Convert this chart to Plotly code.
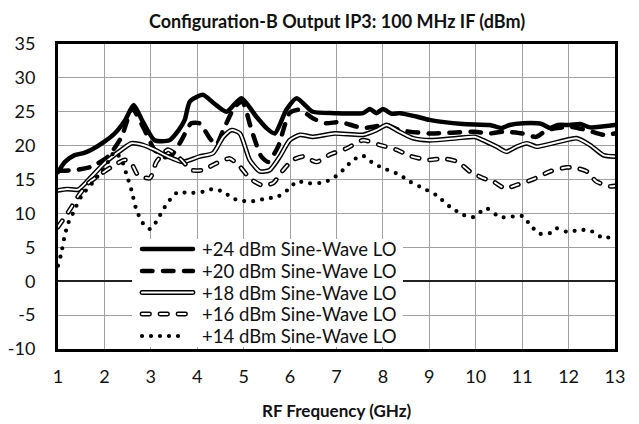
import plotly.graph_objects as go

# ---- Output IP3 (dBm) vs RF frequency (GHz), one series per LO drive level ----
f_lo24 = [1.0, 1.15, 1.36, 1.55, 1.72, 2.0, 2.22, 2.45, 2.63, 2.83, 3.08, 3.4, 3.6, 3.73,
          3.84, 4.12, 4.35, 4.63, 4.95, 5.27, 5.49, 5.67, 5.92, 6.14, 6.49, 6.96, 7.57,
          7.72, 7.86, 8.0, 8.19, 8.37, 8.72, 9.0, 9.72, 10.3, 10.56, 10.73, 11.02, 11.42,
          11.6, 11.77, 12.03, 12.25, 12.46, 13.0]
ip3_lo24 = [16.1, 17.6, 18.6, 18.9, 19.4, 20.6, 21.8, 23.8, 26.0, 23.5, 20.8, 20.8, 22.3, 23.8,
            26.5, 27.5, 26.3, 25.0, 27.0, 24.3, 22.6, 21.8, 25.3, 27.0, 25.0, 24.8, 24.8,
            25.4, 24.8, 25.4, 24.7, 24.8, 24.3, 23.8, 23.2, 23.05, 22.6, 23.05, 23.3, 23.2,
            22.6, 23.05, 23.05, 23.2, 22.7, 23.05]

f_lo20 = [1.0, 1.36, 1.72, 2.08, 2.37, 2.6, 2.83, 3.08, 3.3, 3.45, 3.66, 3.87, 4.05, 4.27,
          4.41, 4.56, 4.81, 4.97, 5.17, 5.38, 5.53, 5.74, 5.99, 6.21, 6.5, 6.78, 7.07, 7.57,
          8.08, 8.36, 9.0, 9.98, 10.3, 10.6, 11.0, 11.3, 11.53, 11.76, 12.03, 12.39, 12.75, 13.0]
ip3_lo20 = [16.3, 16.4, 16.9, 18.4, 21.3, 25.5, 22.8, 19.4, 18.3, 18.6, 20.8, 23.3, 23.3, 21.1,
            20.1, 22.3, 25.75, 26.5, 22.3, 18.4, 17.6, 19.85, 24.8, 25.3, 24.0, 23.3, 23.5, 22.6,
            23.05, 22.3, 21.8, 22.06, 21.8, 22.06, 21.8, 21.3, 22.3, 22.6, 22.8, 22.3, 21.6, 21.8]

f_lo18 = [1.0, 1.2, 1.43, 1.65, 2.0, 2.37, 2.58, 2.83, 3.08, 3.37, 3.69, 4.05, 4.34, 4.56,
          4.74, 4.92, 5.13, 5.35, 5.56, 5.78, 5.99, 6.21, 6.5, 6.96, 7.57, 7.86, 8.08, 8.29,
          8.65, 9.0, 9.59, 9.98, 10.16, 10.45, 10.66, 10.88, 11.1, 11.31, 11.5, 12.03, 12.17,
          12.46, 12.75, 13.0]
ip3_lo18 = [13.4, 13.6, 13.5, 14.9, 17.4, 19.4, 20.35, 20.1, 19.4, 18.4, 17.6, 18.4, 18.9, 21.3,
            22.3, 21.8, 17.9, 16.2, 16.4, 18.4, 20.8, 21.6, 21.3, 21.8, 21.6, 22.3, 23.05, 22.3,
            21.1, 20.8, 21.1, 21.3, 20.8, 19.85, 19.1, 19.85, 20.35, 19.85, 20.1, 20.95, 21.1,
            20.1, 18.6, 18.4]

f_lo16 = [1.0, 1.25, 1.43, 1.65, 1.94, 2.22, 2.44, 2.58, 2.72, 2.98, 3.12, 3.37, 3.66, 3.87,
          4.12, 4.41, 4.7, 4.92, 5.13, 5.38, 5.63, 5.85, 6.06, 6.28, 6.57, 6.86, 7.22, 7.57,
          7.93, 8.29, 8.62, 9.0, 9.3, 9.62, 9.87, 10.16, 10.38, 10.63, 10.88, 11.24, 11.6,
          11.96, 12.17, 12.39, 12.6, 12.9, 13.0]
ip3_lo16 = [8.0, 10.5, 12.5, 14.45, 15.9, 17.15, 17.9, 17.4, 15.7, 15.2, 17.6, 19.4, 17.9, 16.4,
            16.4, 17.4, 18.1, 16.9, 15.2, 14.2, 14.45, 16.4, 17.9, 18.4, 17.6, 18.7, 19.6, 20.8,
            20.1, 19.4, 18.4, 17.9, 18.1, 17.6, 16.2, 15.2, 14.7, 13.7, 14.2, 15.05, 16.2,
            16.8, 16.7, 16.2, 14.7, 14.0, 14.05]

f_lo14 = [1.0, 1.07, 1.14, 1.22, 1.32, 1.5, 1.79, 2.08, 2.22, 2.37, 2.47, 2.58, 2.69, 2.83,
          2.98, 3.12, 3.26, 3.41, 3.59, 3.8, 4.12, 4.34, 4.56, 4.77, 4.95, 5.13, 5.49, 5.74,
          5.99, 6.14, 6.42, 6.71, 6.93, 7.14, 7.36, 7.57, 7.79, 8.0, 8.36, 8.58, 8.87, 9.15,
          9.44, 9.73, 9.94, 10.23, 10.52, 10.8, 11.02, 11.17, 11.38, 11.6, 11.74, 11.96,
          12.24, 12.46, 12.68, 12.82, 13.0]
ip3_lo14 = [2.3, 4.1, 6.6, 8.55, 10.0, 12.5, 14.9, 17.6, 19.1, 17.9, 15.9, 13.5, 10.5, 8.55,
            7.7, 8.8, 10.5, 12.0, 13.2, 13.0, 13.2, 13.6, 13.2, 12.2, 11.9, 11.75, 12.2, 12.5,
            13.7, 14.7, 14.45, 14.55, 15.2, 16.4, 17.9, 18.5, 17.4, 16.7, 15.7, 14.7, 13.7, 12.7,
            11.0, 9.8, 9.45, 10.75, 9.45, 9.55, 9.6, 8.3, 7.0, 7.1, 7.8, 7.3,
            7.55, 7.5, 6.6, 6.4, 6.8]

series_names = ["+24 dBm Sine-Wave LO", "+20 dBm Sine-Wave LO", "+18 dBm Sine-Wave LO",
                "+16 dBm Sine-Wave LO", "+14 dBm Sine-Wave LO"]
series_x = [f_lo24, f_lo20, f_lo18, f_lo16, f_lo14]
series_y = [ip3_lo24, ip3_lo20, ip3_lo18, ip3_lo16, ip3_lo14]

x_ticks = list(range(1, 14))
y_ticks = list(range(-10, 36, 5))

# stroke layers per series: (width, colour, dash); stacked layers give the outlined styles
BLK, WHT = "#000000", "#ffffff"
styles = [
    [(4.5, BLK, "solid")],
    [(4.5, BLK, "10.5px,10.5px")],
    [(4.8, BLK, "solid"), (1.9, WHT, "solid")],
    [(4.8, BLK, "7.5px,10.5px"), (1.9, WHT, "7.5px,10.5px")],
    [(4.2, BLK, "0px,9px")],
]

FONT = "Lato"
TXT = "#111111"

fig = go.Figure()
for name, xs, ys, layers in zip(series_names, series_x, series_y, styles):
    for w, c, d in layers:
        fig.add_trace(go.Scatter(
            x=xs, y=ys, mode="lines", name=name, showlegend=False, hoverinfo="skip",
            line=dict(color=c, width=w, dash=d, shape="spline", smoothing=0.6),
        ))

# plot-area geometry in pixels (used to place the legend and titles)
W, H = 639, 424
PL, PR, PT, PB = 58, 615, 44, 349


def px_x(px):
    return (px - PL) / (PR - PL)


def px_y(py):
    return (PB - py) / (PB - PT)


shapes = [dict(type="rect", xref="paper", yref="paper", layer="above",
               x0=px_x(132), x1=px_x(403), y0=px_y(239), y1=px_y(347),
               fillcolor="white", line=dict(width=0))]
annotations = []
legend_rows = [249, 271, 292.5, 314, 336]
for name, layers, row in zip(series_names, styles, legend_rows):
    x_end = 186 if layers[0][2].startswith("0px") else 193
    for w, c, d in layers:
        shapes.append(dict(type="line", xref="paper", yref="paper", layer="above",
                           x0=px_x(142), x1=px_x(x_end), y0=px_y(row), y1=px_y(row),
                           line=dict(color=c, width=w, dash=d)))
    annotations.append(dict(text=name, xref="paper", yref="paper", x=px_x(200), y=px_y(row),
                            xanchor="left", yanchor="middle", showarrow=False,
                            font=dict(family=FONT, size=18.5, color=TXT)))

# chart title and x-axis title
annotations.append(dict(text="<b>Configuration-B Output IP3: 100 MHz IF (dBm)</b>",
                        xref="paper", yref="paper", x=px_x(337), y=px_y(21),
                        xanchor="center", yanchor="middle", showarrow=False,
                        font=dict(family=FONT, size=18, color=TXT)))
annotations.append(dict(text="<b>RF Frequency (GHz)</b>",
                        xref="paper", yref="paper", x=px_x(337), y=px_y(410),
                        xanchor="center", yanchor="middle", showarrow=False,
                        font=dict(family=FONT, size=17, color=TXT)))

fig.update_layout(
    width=W, height=H,
    margin=dict(l=PL, r=W - PR, t=PT, b=H - PB, autoexpand=False),
    paper_bgcolor="white", plot_bgcolor="white",
    showlegend=False,
    shapes=shapes,
    annotations=annotations,
    font=dict(family=FONT, color=TXT),
)

fig.update_xaxes(
    range=[1, 13], tickvals=x_ticks, ticktext=[str(v) for v in x_ticks],
    showgrid=True, gridcolor="#a0a0a0", gridwidth=1.3,
    showline=True, linecolor="black", linewidth=3, mirror=True,
    zeroline=False, ticks="", ticklabelstandoff=9, automargin=False,
    tickfont=dict(family=FONT, size=18, color=TXT),
)
fig.update_yaxes(
    range=[-10, 35], tickvals=y_ticks, ticktext=[str(v) for v in y_ticks],
    showgrid=True, gridcolor="#a0a0a0", gridwidth=1.3,
    showline=True, linecolor="black", linewidth=3, mirror=True,
    zeroline=True, zerolinecolor="#222222", zerolinewidth=1.6,
    ticks="", ticklabelstandoff=16, automargin=False,
    tickfont=dict(family=FONT, size=18, color=TXT),
)

# round line caps give the dotted trace its round dots and the dashes rounded ends
round_caps = """
document.querySelectorAll('.scatterlayer .js-line, .shapelayer path').forEach(function(p){
    p.style.strokeLinecap = 'round';
});
"""

fig.write_html("out.html", post_script=round_caps)
